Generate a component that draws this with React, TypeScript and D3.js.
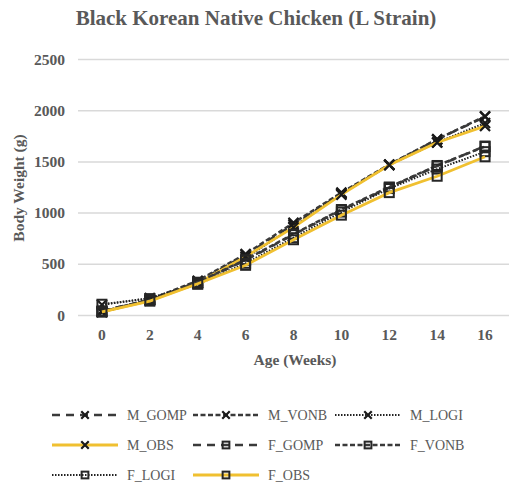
import * as d3 from "d3"
import { useEffect, useRef } from "react"

const weeks = ["0", "2", "4", "6", "8", "10", "12", "14", "16"]
const yTicks = [0, 500, 1000, 1500, 2000, 2500]

const mGomp = [45, 150, 330, 590, 890, 1190, 1470, 1720, 1940]
const mVonb = [35, 155, 340, 600, 905, 1200, 1475, 1720, 1945]
const mLogi = [105, 170, 315, 560, 870, 1190, 1470, 1690, 1880]
const mObs = [35, 145, 315, 575, 860, 1180, 1470, 1690, 1850]
const fGomp = [45, 150, 320, 540, 790, 1030, 1250, 1460, 1655]
const fVonb = [35, 155, 325, 545, 795, 1035, 1255, 1465, 1650]
const fLogi = [110, 165, 305, 510, 760, 1010, 1240, 1430, 1600]
const fObs = [35, 140, 310, 490, 740, 980, 1200, 1360, 1550]

type Series = {
  name: string
  values: number[]
  kind: "gomp" | "vonb" | "logi" | "obs"
  marker: "x" | "square"
}

const series: Series[] = [
  { name: "M_GOMP", values: mGomp, kind: "gomp", marker: "x" },
  { name: "M_VONB", values: mVonb, kind: "vonb", marker: "x" },
  { name: "M_LOGI", values: mLogi, kind: "logi", marker: "x" },
  { name: "M_OBS", values: mObs, kind: "obs", marker: "x" },
  { name: "F_GOMP", values: fGomp, kind: "gomp", marker: "square" },
  { name: "F_VONB", values: fVonb, kind: "vonb", marker: "square" },
  { name: "F_LOGI", values: fLogi, kind: "logi", marker: "square" },
  { name: "F_OBS", values: fObs, kind: "obs", marker: "square" },
]

const lineStyle = {
  gomp: { stroke: "#3a3a3a", width: 2.5, dash: "8,6" },
  vonb: { stroke: "#3a3a3a", width: 2.5, dash: "5,2.5" },
  logi: { stroke: "#222", width: 2, dash: "1.5,1.5" },
  obs: { stroke: "#f0c030", width: 2.8, dash: null as string | null },
}

const serif = "'Liberation Serif', 'DejaVu Serif', serif"

const App = () => {
  const svgRef = useRef<SVGSVGElement | null>(null)

  useEffect(() => {
    if (!svgRef.current) return
    const svg = d3.select(svgRef.current)
    svg.selectAll("*").remove()

    const x = d3.scalePoint().domain(weeks).range([78, 509]).padding(0.5)
    const y = d3.scaleLinear().domain([0, 2500]).range([315.5, 59.5])

    const label = (
      sel: d3.Selection<SVGTextElement, any, any, any>,
      size: number,
      bold: boolean,
    ) =>
      sel
        .attr("font-family", serif)
        .attr("font-size", size)
        .attr("font-weight", bold ? "bold" : "normal")
        .attr("fill", "#595959")

    // Title
    svg
      .append("text")
      .attr("x", 256)
      .attr("y", 25)
      .attr("text-anchor", "middle")
      .call(label, 21, true)
      .text("Black Korean Native Chicken (L Strain)")

    // Gridlines
    svg
      .append("g")
      .selectAll("line")
      .data(yTicks)
      .enter()
      .append("line")
      .attr("x1", 78)
      .attr("x2", 509)
      .attr("y1", (d) => y(d))
      .attr("y2", (d) => y(d))
      .attr("stroke", "#d9d9d9")
      .attr("stroke-width", 1.5)

    // Y tick labels
    svg
      .append("g")
      .selectAll("text")
      .data(yTicks)
      .enter()
      .append("text")
      .attr("x", 65)
      .attr("y", (d) => y(d) + 5)
      .attr("text-anchor", "end")
      .call(label, 15.5, true)
      .text((d) => d)

    // X tick labels
    svg
      .append("g")
      .selectAll("text")
      .data(weeks)
      .enter()
      .append("text")
      .attr("x", (d) => x(d)!)
      .attr("y", 340)
      .attr("text-anchor", "middle")
      .call(label, 15.5, true)
      .text((d) => d)

    // Axis titles
    svg
      .append("text")
      .attr("x", 295)
      .attr("y", 365)
      .attr("text-anchor", "middle")
      .call(label, 15.5, true)
      .text("Age (Weeks)")

    svg
      .append("text")
      .attr("transform", "translate(24,188) rotate(-90)")
      .attr("text-anchor", "middle")
      .call(label, 15.5, true)
      .text("Body Weight (g)")

    const line = d3
      .line<number>()
      .x((_, i) => x(weeks[i])!)
      .y((d) => y(d))

    const drawMarker = (
      g: d3.Selection<SVGGElement, unknown, null, undefined>,
      cx: number,
      cy: number,
      marker: "x" | "square",
      scale = 1,
    ) => {
      if (marker === "x") {
        const s = 5 * scale
        g.append("path")
          .attr("d", `M${cx - s},${cy - s}L${cx + s},${cy + s}M${cx - s},${cy + s}L${cx + s},${cy - s}`)
          .attr("stroke", "#1a1a1a")
          .attr("stroke-width", 2.2)
      } else {
        const s = 9 * scale
        g.append("rect")
          .attr("x", cx - s / 2)
          .attr("y", cy - s / 2)
          .attr("width", s)
          .attr("height", s)
          .attr("fill", "none")
          .attr("stroke", "#262626")
          .attr("stroke-width", 2)
      }
    }

    series.forEach((s) => {
      const st = lineStyle[s.kind]
      const g = svg.append("g")
      g.append("path")
        .datum(s.values)
        .attr("d", line)
        .attr("fill", "none")
        .attr("stroke", st.stroke)
        .attr("stroke-width", st.width)
        .attr("stroke-dasharray", st.dash)
      s.values.forEach((v, i) => drawMarker(g, x(weeks[i])!, y(v), s.marker))
    })

    // Legend
    const cols = [52, 193, 335]
    const rows = [420, 450, 480]
    series.forEach((s, i) => {
      const col = cols[i % 3]
      const row = rows[Math.floor(i / 3)]
      const st = lineStyle[s.kind]
      const g = svg.append("g")
      const lineEnd = col + 66
      g.append("line")
        .attr("x1", col)
        .attr("x2", lineEnd)
        .attr("y1", row - 5)
        .attr("y2", row - 5)
        .attr("stroke", st.stroke)
        .attr("stroke-width", st.width)
        .attr("stroke-dasharray", st.dash)
      drawMarker(g, (col + lineEnd) / 2, row - 5, s.marker, 0.75)
      g.append("text")
        .attr("x", col + 75)
        .attr("y", row)
        .call(label, 14, false)
        .text(s.name)
    })
  }, [])

  return (
    <svg
      ref={svgRef}
      width={509}
      height={492}
      style={{ position: "absolute", left: 0, top: 0, background: "#fff" }}
    />
  )
}

export default App
